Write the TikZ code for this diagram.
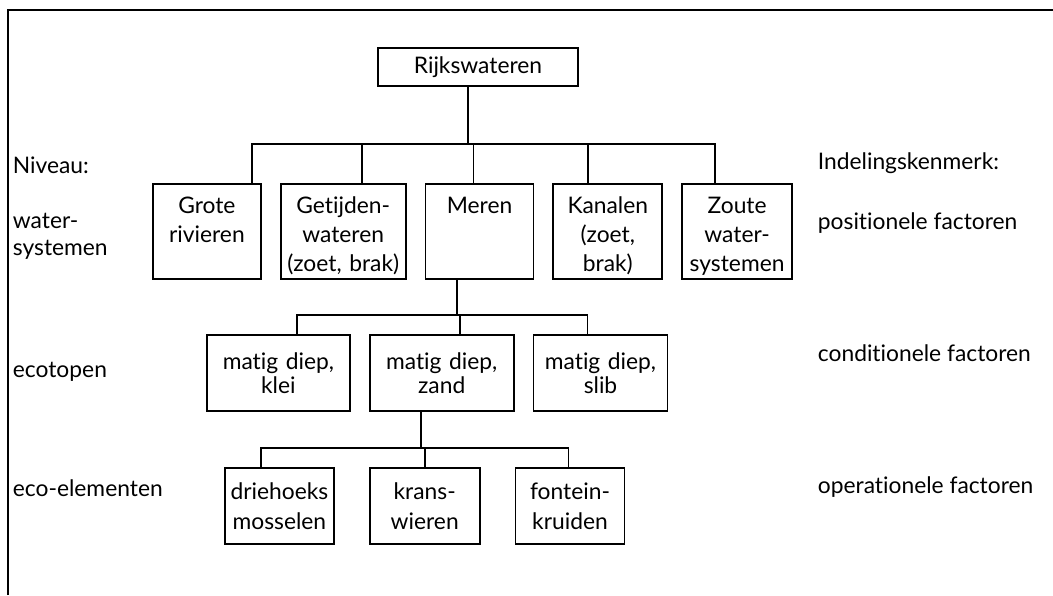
\documentclass[tikz,border=0pt]{standalone}
\usepackage{fontspec}
\setmainfont{Lato}[Ligatures=NoCommon]
\usetikzlibrary{chains,
                positioning}

\begin{document}
\begin{tikzpicture}[x=0.5pt, y=-0.5pt,
node distance = 9pt,
    line width = 0.9pt,
   box/.style = {rectangle, draw, align=center, inner xsep=0pt,
                 font=\fontsize{11.4}{14.5}\selectfont},
  wbox/.style = {box, text height=15pt, text depth=32.5pt,
                 inner ysep=0pt},
  ebox/.style = {box, minimum height=38pt,
                 font=\fontsize{11.4}{12}\selectfont},
  lbox/.style = {box, minimum height=38pt,
                 font=\fontsize{11.4}{15}\selectfont},
   lbl/.style = {anchor=west, align=left, inner sep=0pt,
                 font=\fontsize{11.4}{13.5}\selectfont},
                        ]
\useasboundingbox (0,0) rectangle (1053,595);
\draw[line width=1pt] (8,595) -- (8,10) -- (1053,10);

\node (R) [box, text width=100pt, minimum height=19pt] at (478,67) {Rijkswateren};
% watersystemen
    \begin{scope}[start chain=W going right,
                  every node/.append style={wbox, on chain}]
\node[text width=54pt, anchor=north west] at (152,183) {Grote\\rivieren};
\node[text width=62.5pt] {Getijden-\\wateren\\(zoet, brak)};
\node[text width=54pt] {Meren};
\node[text width=54.5pt] {Kanalen\\(zoet,\\brak)};
\node[text width=55pt] {Zoute\\water-\\systemen};
    \end{scope}
% ecotopen
    \begin{scope}[start chain=E going right,
                  every node/.append style={ebox, on chain}]
\node[text width=71.5pt, anchor=north west] at (206,334) {matig diep,\\klei};
\node[text width=72pt] {matig diep,\\zand};
\node[text width=67pt] {matig diep,\\slib};
    \end{scope}
% eco-elementen
    \begin{scope}[node distance=17pt, start chain=L going right,
                  every node/.append style={lbox, on chain}]
\node[text width=54.5pt, anchor=north west] at (224,467) {driehoeks\\mosselen};
\node[text width=55pt] {krans-\\wieren};
\node[text width=54.5pt] {fontein-\\kruiden};
    \end{scope}

\coordinate (top) at (468,144);
\draw ([xshift=-5pt]R.south) -- (top);
\foreach \i/\dx in {1/22.5, 2/9.25, 3/-3, 4/-10, 5/-11}
    \draw ([xshift=\dx pt]W-\i.north) |- (top);

\coordinate (mid) at (457,315);
\draw (W-3.south -| mid) -- (mid);
\foreach \i/\dx in {1/9.25, 2/9, 3/-6.5}
    \draw ([xshift=\dx pt]E-\i.north) |- (mid);

\coordinate (low) at (421,448);
\draw (E-2.south -| low) -- (low);
\foreach \i/\dx in {1/-9.25, 2/0, 3/-0.75}
    \draw ([xshift=\dx pt]L-\i.north) |- (low);

% niveau en indelingskenmerk
\node (niv)  [lbl] at (12,165) {Niveau:};
\node (ws)   [lbl] at (12,236) {water-\\systemen};
\node (eco)  [lbl] at (12,372) {ecotopen};
\node (ecel) [lbl] at (12,488) {eco-elementen};
\foreach \n/\y/\t in {ind/163/Indelingskenmerk:, pos/223/positionele factoren,
                      con/353/conditionele factoren, ope/487/operationele factoren}
    \node (\n) [lbl] at (817,\y) {\t};
\end{tikzpicture}
\end{document}
